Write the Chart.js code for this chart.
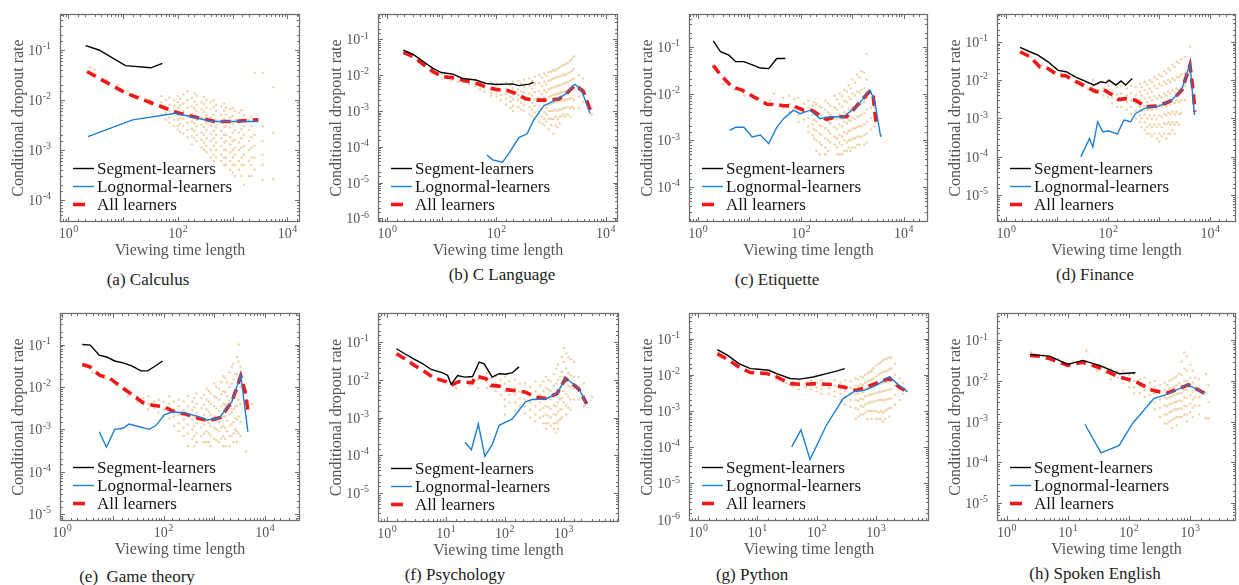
<!DOCTYPE html>
<html><head><meta charset="utf-8">
<script src="https://cdn.jsdelivr.net/npm/chart.js@4.4.0/dist/chart.umd.min.js"></script>
<style>
html,body{margin:0;padding:0;background:#fff;width:1239px;height:585px;overflow:hidden;position:relative}
canvas{position:absolute}
.cap{position:absolute;width:260px;text-align:center;font:17px "Liberation Serif","Times New Roman",serif;color:#222;line-height:20px;white-space:pre}
</style></head><body>
<script>
// ---------- tick labels (exponents of 10 that carry a label) ----------
const xTickExpsTop = [0, 2, 4];
const xTickExpsBottom = [0, 1, 2, 3];
const yTickExpsA = [-4, -3, -2, -1];
const yTickExpsB = [-6, -5, -4, -3, -2, -1];
const yTickExpsC = [-4, -3, -2, -1];
const yTickExpsD = [-5, -4, -3, -2, -1];
const yTickExpsE = [-5, -4, -3, -2, -1];
const yTickExpsF = [-5, -4, -3, -2, -1];
const yTickExpsG = [-6, -5, -4, -3, -2, -1];
const yTickExpsH = [-5, -4, -3, -2, -1];

const seriesNames = ['Segment-learners', 'Lognormal-learners', 'All learners'];
const captions = ['(a) Calculus', '(b) C Language', '(c) Etiquette', '(d) Finance',
                  '(e)  Game theory', '(f) Psychology', '(g) Python', '(h) Spoken English'];

// ---------- (a) Calculus ----------
const segAX = [2.06, 3.6, 11, 32, 52];
const segAY = [0.122, 0.1, 0.0486, 0.044, 0.054];
const logAX = [2.27, 14.9, 91, 419, 966, 2950];
const logAY = [0.00185, 0.004, 0.0054, 0.0037, 0.0037, 0.0037];
const allAX = [2.18, 11.3, 34, 104, 316, 480, 966, 2950];
const allAY = [0.037, 0.0136, 0.0086, 0.0054, 0.0041, 0.0037, 0.0037, 0.004];
const cloudA = [[2.5,0.045],[3,0.04],[5,0.025],[8,0.02],[12,0.015],[20,0.012],[30,0.01,0.008],
 [50,0.012,0.009,0.007,0.005],[60,0.01,0.0075,0.0055,0.004],[70,0.011,0.008,0.006,0.0045,0.0035],[85,0.01,0.0075,0.0055,0.004,0.003],
 [100,0.012,0.009,0.007,0.005,0.004,0.003,0.0025],[110,0.0105,0.0078,0.0058,0.0044,0.0033,0.0023],[125,0.013,0.0085,0.006,0.0042,0.003,0.0021],
 [150,0.015,0.01,0.007,0.005,0.0035,0.0025,0.0018],[180,0.011,0.0075,0.0052,0.0037,0.0026,0.0019,0.0013],
 [200,0.0135,0.0092,0.0068,0.0048,0.0034,0.0024,0.0017],
 [220,0.012,0.008,0.006,0.004,0.003,0.002,0.0015],[270,0.009,0.0065,0.0045,0.0032,0.0022,0.0016,0.0011],
 [300,0.0115,0.0082,0.0058,0.0041,0.0029,0.002,0.0014,0.001],
 [330,0.01,0.007,0.005,0.0035,0.0025,0.0017,0.0012,0.0009],[400,0.009,0.0065,0.0045,0.003,0.0021,0.0015,0.001,0.0007],
 [450,0.0098,0.0072,0.005,0.0035,0.0024,0.0017,0.0012,0.0008,0.0006],
 [500,0.008,0.006,0.004,0.0028,0.002,0.0014,0.001,0.0007],[620,0.0075,0.005,0.0035,0.0024,0.0017,0.0012,0.0008,0.0006],
 [700,0.0085,0.006,0.0042,0.0029,0.002,0.0014,0.001,0.0007,0.0005],
 [750,0.007,0.005,0.003,0.002,0.0015,0.001,0.0007,0.0005],[900,0.0065,0.0045,0.0028,0.0018,0.0013,0.0009,0.0006,0.0004],
 [1000,0.0068,0.0048,0.0033,0.0022,0.0015,0.001,0.0007,0.0005,0.00035],
 [1100,0.006,0.004,0.0025,0.0016,0.0011,0.0008,0.0005,0.0003],[1300,0.0055,0.0035,0.0022,0.0014,0.001,0.0006,0.0004],
 [1450,0.0062,0.004,0.0026,0.0017,0.0011,0.0007,0.0005,0.0003],
 [1600,0.005,0.003,0.002,0.0012,0.0008,0.0005,0.0002],[2000,0.004,0.0025,0.0015,0.001,0.0006,0.0003],
 [2200,0.0045,0.003,0.0018,0.0011,0.0007,0.0005,0.0003],
 [2500,0.035,0.004,0.002,0.0012,0.0007,0.0004],[3500,0.035,0.003,0.0015,0.0008,0.0005,0.00025],[5500,0.018,0.0022,0.00026]];

// ---------- (b) C Language ----------
const segBX = [1.98, 3.0, 4.56, 6.9, 9.8, 15.9, 24, 42, 64, 97, 148, 195, 257, 390, 480];
const segBY = [0.050, 0.038, 0.024, 0.0155, 0.0118, 0.0107, 0.0081, 0.0073, 0.0059, 0.0055, 0.0056, 0.0057, 0.0051, 0.0056, 0.0063];
const logBX = [67, 85, 129, 170, 257, 363, 480, 727, 1190, 1800, 2730, 3600, 5150];
const logBY = [5.9e-5, 4.3e-5, 3.7e-5, 6.6e-5, 1.8e-4, 2.3e-4, 5.6e-4, 0.00138, 0.002, 0.0029, 0.0056, 0.0037, 0.00085];
const allBX = [1.98, 3.0, 4.56, 6.9, 10.5, 15.9, 27.7, 48.6, 64, 97, 158, 225, 340, 518, 900, 1370, 1800, 2730, 3870, 5300];
const allBY = [0.043, 0.033, 0.02, 0.0125, 0.009, 0.0085, 0.0069, 0.0056, 0.0046, 0.004, 0.0037, 0.0031, 0.0022, 0.002, 0.002, 0.00215, 0.0028, 0.0053, 0.0035, 0.00096];
const cloudB = [[10,0.011,0.008],[12,0.0095],[15,0.01,0.007],[20,0.0085,0.0065],[25,0.008,0.006],[32,0.0075,0.0055],
 [40,0.007,0.005],[50,0.0065,0.0048,0.004],[60,0.006,0.0045,0.0035],[80,0.0062,0.0042,0.0032,0.0026],
 [100,0.006,0.004,0.003,0.0025],[120,0.0055,0.0037,0.0028,0.002],[150,0.006,0.004,0.003,0.0022,0.0015],
 [180,0.0052,0.0035,0.0025,0.0018,0.0012],
 [200,0.0065,0.0042,0.0029,0.0021,0.0014,0.001],[250,0.007,0.004,0.0028,0.002,0.0013],
 [280,0.0058,0.0035,0.0024,0.0017,0.0011],
 [320,0.0075,0.0047,0.0032,0.0022,0.0015,0.001],[400,0.008,0.005,0.003,0.002,0.0013,0.0008],
 [450,0.0068,0.0042,0.0027,0.0017,0.0011,0.0007],
 [500,0.009,0.0055,0.0033,0.0021,0.0014,0.0009,0.0006],[600,0.01,0.006,0.0035,0.0022,0.0014,0.0008,0.0005],
 [680,0.0085,0.005,0.003,0.0019,0.0012,0.0007,0.00045],
 [750,0.011,0.0065,0.0038,0.0024,0.0015,0.0009,0.0006,0.0004],
 [820,0.0095,0.0055,0.0033,0.002,0.0012,0.0008,0.0005],
 [900,0.012,0.007,0.004,0.0025,0.0015,0.001,0.0006,0.0003],
 [1000,0.0125,0.0075,0.0043,0.0026,0.0016,0.001,0.0006,0.0004],
 [1100,0.014,0.008,0.0045,0.0028,0.0017,0.001,0.0006,0.00023],
 [1200,0.0135,0.0085,0.0048,0.0029,0.0018,0.0011,0.0007,0.0004],
 [1300,0.015,0.009,0.005,0.003,0.0018,0.001,0.0006,0.00035],
 [1420,0.016,0.009,0.0052,0.0031,0.0019,0.0011,0.0007,0.00045],
 [1550,0.018,0.0095,0.0055,0.0033,0.0019,0.0011,0.0007],
 [1680,0.019,0.0105,0.0058,0.0034,0.002,0.0012,0.0008],
 [1800,0.02,0.01,0.006,0.0035,0.002,0.0012,0.0007],
 [2000,0.022,0.011,0.0063,0.0037,0.0021,0.0013,0.0008],
 [2200,0.025,0.012,0.007,0.004,0.0022,0.0012,0.0007],
 [2400,0.028,0.013,0.0075,0.004,0.0023,0.0013],
 [2600,0.033,0.015,0.008,0.004,0.002,0.0012],
 [3200,0.01,0.005,0.0025,0.0012],[3800,0.008,0.004,0.0018],[5500,0.0012,0.0008]];

// ---------- (c) Etiquette ----------
const segCX = [1.98, 2.75, 4.0, 5.4, 7.8, 12.1, 16.3, 23.7, 34, 50];
const segCY = [0.134, 0.078, 0.066, 0.048, 0.048, 0.040, 0.035, 0.034, 0.056, 0.056];
const logCX = [4.1, 5.4, 7.8, 11.3, 16.3, 23.7, 34, 46, 72, 97, 151, 237, 370, 670, 1210, 2200, 2700, 3550];
const logCY = [0.00164, 0.0019, 0.0019, 0.00118, 0.0013, 0.00085, 0.0019, 0.0029, 0.0044, 0.0037, 0.0044, 0.0029, 0.0032, 0.0032, 0.0052, 0.0118, 0.0072, 0.00118];
const allCX = [1.98, 2.75, 4.6, 7.2, 12.1, 22, 34, 46, 72, 113, 162, 237, 316, 500, 780, 1210, 2200, 2550, 2950];
const allCY = [0.040, 0.025, 0.0139, 0.0118, 0.0085, 0.0059, 0.0058, 0.0055, 0.0054, 0.0044, 0.0044, 0.0034, 0.0028, 0.0032, 0.0032, 0.0054, 0.0114, 0.0085, 0.0019];
const cloudC = [[3,0.016],[5,0.012],[8,0.009],[15,0.008],[25,0.007],[30,0.01,0.006],[45,0.008,0.005],
 [60,0.009,0.006,0.004],[75,0.0075,0.005],[90,0.008,0.005,0.0035,0.0025],[115,0.006,0.004,0.0028],
 [140,0.007,0.005,0.003,0.002,0.0015],[170,0.0055,0.0035,0.0022,0.0013],
 [180,0.0065,0.0042,0.0027,0.0017,0.0011],
 [200,0.006,0.004,0.0025,0.0016,0.001,0.0006],
 [230,0.0052,0.0034,0.0021,0.0014,0.0009,0.0005],
 [250,0.005,0.0033,0.002,0.0013,0.0008],[300,0.007,0.0045,0.0028,0.0018,0.0011,0.0007,0.0005],
 [340,0.0062,0.004,0.0025,0.0016,0.001,0.0006],
 [370,0.0055,0.0036,0.0023,0.0014,0.0009],[450,0.009,0.005,0.003,0.0019,0.0012,0.0008],
 [500,0.0075,0.0045,0.0028,0.0017,0.0011,0.0007,0.0005],
 [560,0.01,0.006,0.0035,0.0022,0.0013,0.0009,0.0005],
 [630,0.0088,0.0053,0.0032,0.002,0.0012,0.0008,0.0005],
 [700,0.012,0.007,0.004,0.0025,0.0015,0.001,0.0006],
 [780,0.011,0.0065,0.0037,0.0023,0.0014,0.0009,0.0006],
 [850,0.015,0.0085,0.0045,0.0027,0.0016,0.001,0.0007],
 [920,0.013,0.0075,0.0042,0.0026,0.0016,0.001,0.0006],
 [1000,0.02,0.01,0.005,0.003,0.0018,0.0011,0.0007],
 [1120,0.017,0.009,0.0048,0.0029,0.0018,0.0011,0.0007],
 [1250,0.025,0.011,0.0055,0.0032,0.0019,0.0012,0.0008],
 [1380,0.022,0.0105,0.0055,0.0033,0.002,0.0012,0.0008],
 [1500,0.03,0.012,0.006,0.0035,0.002,0.0012],
 [1700,0.028,0.013,0.0065,0.0038,0.0022,0.0013,0.0008],
 [1900,0.07,0.02,0.008,0.0045,0.0025,0.0014,0.0009],[2300,0.01,0.005,0.003,0.0017],[2700,0.005,0.002],[3700,0.0013]];

// ---------- (d) Finance ----------
const segDX = [1.87, 2.9, 4.2, 6.6, 10.4, 15, 23.6, 37, 53, 72, 90, 104, 141, 178, 220, 296];
const segDY = [0.071, 0.055, 0.045, 0.030, 0.018, 0.0166, 0.0118, 0.0091, 0.0074, 0.0091, 0.0085, 0.01, 0.0074, 0.0095, 0.0074, 0.011];
const logDX = [29, 43, 50, 62, 78, 104, 151, 204, 275, 345, 466, 630, 980, 1320, 1780, 2780, 4000, 4900];
const logDY = [1.0e-4, 3.0e-4, 1.8e-4, 8.2e-4, 4.5e-4, 4.7e-4, 3.9e-4, 9.1e-4, 8.2e-4, 0.00135, 0.0017, 0.002, 0.0021, 0.0025, 0.0031, 0.0057, 0.027, 0.00123];
const allDX = [1.87, 2.9, 4.6, 6.6, 10.4, 15, 23.6, 37, 58, 78, 121, 163, 220, 345, 540, 840, 1320, 1780, 2780, 4000, 4680, 5000];
const allDY = [0.055, 0.041, 0.022, 0.020, 0.0135, 0.0128, 0.0091, 0.0067, 0.005, 0.0058, 0.0041, 0.0031, 0.0033, 0.003, 0.002, 0.0021, 0.0025, 0.003, 0.0055, 0.0245, 0.0045, 0.0015];
const cloudD = [[3,0.04],[5,0.025],[8,0.018],[12,0.015],[20,0.012],[30,0.009,0.007],[40,0.0085,0.006],
 [50,0.01,0.007,0.005],[65,0.008,0.0055,0.0045],[80,0.009,0.006,0.004],[100,0.0075,0.005,0.0035],
 [120,0.008,0.005,0.0035,0.0025],[150,0.0065,0.0042,0.003,0.002],[180,0.007,0.0045,0.003,0.002],
 [230,0.006,0.004,0.0027,0.0017],[280,0.007,0.0045,0.003,0.002,0.0013],[350,0.0065,0.004,0.0026,0.0016,0.001],
 [420,0.008,0.005,0.003,0.002,0.0012,0.0008],
 [450,0.0065,0.004,0.0025,0.0016,0.001,0.0006],
 [520,0.009,0.0055,0.0033,0.0021,0.0013,0.0008,0.0005],
 [580,0.0075,0.0045,0.0027,0.0017,0.001,0.0006,0.0004],
 [650,0.01,0.006,0.0035,0.002,0.0012,0.0007,0.0004],
 [720,0.0088,0.005,0.003,0.0017,0.001,0.0006,0.00035],
 [800,0.012,0.007,0.0038,0.0021,0.0012,0.0007,0.0004],
 [900,0.0105,0.006,0.0033,0.0018,0.001,0.0006,0.0003],
 [1000,0.014,0.008,0.004,0.0022,0.0012,0.0007,0.0004,0.00025],
 [1120,0.0125,0.007,0.0036,0.002,0.0011,0.0006,0.00035],
 [1250,0.017,0.009,0.0045,0.0024,0.0013,0.00075,0.0004],
 [1380,0.015,0.008,0.004,0.0021,0.0012,0.0007,0.0003],
 [1500,0.02,0.01,0.005,0.0025,0.0014,0.0008,0.0004],
 [1650,0.018,0.009,0.0045,0.0023,0.0013,0.0007,0.0004],
 [1800,0.025,0.011,0.0055,0.0028,0.0015,0.0008,0.0005],
 [2000,0.022,0.01,0.005,0.0025,0.0013,0.0007,0.0004],
 [2200,0.03,0.012,0.006,0.003,0.0015,0.0008],
 [2450,0.028,0.012,0.0055,0.0027,0.0013,0.0007],
 [2700,0.035,0.014,0.0065,0.003,0.0014],[3200,0.04,0.015,0.007,0.003],[4000,0.075,0.02]];

// ---------- (e) Game theory ----------
const segEX = [2.5, 3.6, 5.4, 7.5, 10.9, 15.8, 23, 36, 49, 71, 96];
const segEY = [0.1, 0.097, 0.056, 0.051, 0.041, 0.037, 0.032, 0.024, 0.024, 0.032, 0.041];
const logEX = [5.4, 7.5, 10.9, 15.8, 21, 33, 52, 71, 103, 151, 273, 500, 720, 1230, 2230, 3330, 4600];
const logEY = [8.8e-4, 3.8e-4, 0.001, 0.00106, 0.00133, 0.00115, 0.001, 0.00123, 0.0022, 0.0026, 0.0024, 0.002, 0.00166, 0.0018, 0.0045, 0.019, 8.8e-4];
const allEX = [2.5, 3.5, 5.5, 8.7, 14.7, 24.8, 39, 61, 103, 174, 273, 500, 780, 1320, 2230, 3330, 4060, 4700];
const allEY = [0.034, 0.030, 0.019, 0.016, 0.01, 0.0064, 0.0043, 0.0037, 0.0034, 0.0025, 0.0023, 0.0018, 0.0016, 0.0019, 0.0045, 0.018, 0.0077, 0.0024];
const cloudE = [[4,0.022],[7,0.016],[12,0.011],[20,0.008,0.006],[30,0.006,0.0045],[40,0.0055,0.004],
 [50,0.006,0.004,0.003],[65,0.0045,0.0032],[80,0.005,0.0035,0.0025],[100,0.0045,0.003,0.002],
 [130,0.006,0.004,0.0028,0.0018],[160,0.0045,0.003,0.002,0.0012],[200,0.005,0.0035,0.0022,0.0014,0.0009],
 [250,0.0045,0.0028,0.0017,0.0011,0.0007],[300,0.006,0.0035,0.0022,0.0013,0.0008,0.0004],
 [370,0.0045,0.0028,0.0017,0.001,0.0006],
 [400,0.0055,0.0033,0.002,0.0012,0.0007,0.0004],
 [450,0.007,0.004,0.0024,0.0014,0.0008,0.0005],
 [560,0.0055,0.0032,0.0019,0.0011,0.0007],
 [630,0.0065,0.0038,0.0022,0.0013,0.0008,0.0005],
 [700,0.009,0.005,0.003,0.0016,0.0009,0.0005],
 [780,0.008,0.0045,0.0026,0.0014,0.0008,0.0005],
 [850,0.007,0.004,0.0022,0.0012,0.0007,0.0004],[1000,0.012,0.006,0.0035,0.002,0.0011,0.0006],
 [1100,0.01,0.0055,0.0031,0.0017,0.001,0.00055],
 [1250,0.009,0.005,0.0027,0.0015,0.0009,0.0005],
 [1380,0.013,0.0068,0.0035,0.0019,0.0011,0.0006],
 [1500,0.018,0.008,0.004,0.002,0.0012,0.0007,0.0004],
 [1650,0.016,0.0075,0.0037,0.002,0.0011,0.0006,0.0004],
 [1800,0.013,0.006,0.003,0.0016,0.0009],
 [2000,0.022,0.01,0.0045,0.0023,0.0012,0.0007,0.0004],
 [2200,0.03,0.012,0.005,0.0025,0.0013,0.0007],
 [2400,0.035,0.015,0.0065,0.003,0.0015,0.0008,0.0005],
 [2600,0.02,0.008,0.0035,0.0018,0.001],
 [2800,0.05,0.02,0.008,0.0035,0.0017,0.0009,0.0005],
 [3000,0.1,0.04,0.015,0.005,0.002,0.0008],
 [3300,0.03,0.01,0.004,0.0015,0.0007],
 [4200,0.008,0.003,0.0003],[5500,0.004]];

// ---------- (f) Psychology ----------
const segFX = [1.44, 1.99, 2.93, 4.05, 5.6, 8.8, 10.7, 12.2, 15.8, 20.6, 28.3, 36.6, 44.5, 61, 80, 103, 134, 174];
const segFY = [0.0665, 0.049, 0.035, 0.0266, 0.0188, 0.0153, 0.013, 0.0076, 0.013, 0.0118, 0.0122, 0.0295, 0.0266, 0.0118, 0.0145, 0.014, 0.0154, 0.022];
const logFX = [21, 27, 35.5, 45.7, 61, 80, 134, 224, 290, 490, 770, 1070, 1290, 1790, 2460];
const logFY = [2.2e-4, 1.4e-4, 6.7e-4, 9.3e-5, 1.9e-4, 6.2e-4, 9.2e-4, 0.0026, 0.003, 0.0031, 0.0043, 0.011, 0.009, 0.006, 0.0023];
const allFX = [1.44, 1.99, 2.93, 4.3, 6.4, 10, 12.2, 14.7, 16.9, 28, 32, 48, 58, 80, 103, 174, 224, 331, 490, 770, 1070, 1290, 1790, 2460];
const allFY = [0.049, 0.036, 0.024, 0.0166, 0.011, 0.009, 0.0071, 0.0083, 0.009, 0.0083, 0.0125, 0.0107, 0.0071, 0.0068, 0.0055, 0.005, 0.0047, 0.0035, 0.0032, 0.0043, 0.0107, 0.0087, 0.0058, 0.0023];
const cloudF = [[10,0.008],[15,0.006],[25,0.012,0.007],[35,0.02,0.01,0.006],[50,0.015,0.009,0.006],[60,0.011,0.007],
 [70,0.012,0.008,0.005],[85,0.01,0.0065,0.004],[100,0.012,0.008,0.005,0.003,0.002,0.0012],[120,0.009,0.006,0.004,0.0025],
 [150,0.01,0.006,0.004,0.0025,0.0015],[180,0.008,0.005,0.0032,0.002],[220,0.008,0.005,0.003,0.002,0.0013],
 [270,0.0065,0.004,0.0025,0.0016,0.001],[330,0.009,0.005,0.003,0.002,0.0012,0.0008],[400,0.007,0.004,0.0025,0.0016,0.001],
 [450,0.009,0.005,0.003,0.0018,0.0011,0.0007],
 [500,0.012,0.006,0.0035,0.002,0.0012,0.0007,0.0005],
 [550,0.01,0.0055,0.0032,0.0019,0.0011,0.0007],
 [600,0.009,0.005,0.003,0.0017,0.001,0.0006],
 [680,0.014,0.007,0.0037,0.0021,0.0012,0.0007,0.0005],
 [750,0.02,0.008,0.004,0.002,0.0012,0.0007,0.0004],
 [800,0.025,0.01,0.005,0.0025,0.0014,0.0008,0.0005],
 [870,0.012,0.006,0.003,0.0016,0.0009],
 [930,0.04,0.016,0.007,0.0033,0.0017,0.001],
 [1000,0.07,0.03,0.012,0.005,0.0025],
 [1100,0.05,0.02,0.009,0.0042,0.0021,0.0012],
 [1200,0.04,0.015,0.007,0.0035,0.0018],
 [1320,0.035,0.013,0.0065,0.003,0.0016],
 [1500,0.03,0.012,0.006,0.003],[1800,0.012,0.006,0.003],
 [2200,0.008,0.004,0.002],[3000,0.0035]];

// ---------- (g) Python ----------
const segGX = [2.1, 3.1, 4.85, 7.6, 10.5, 15.5, 21, 35.6, 52, 87, 146, 215, 296];
const segGY = [0.0497, 0.035, 0.0204, 0.0148, 0.0142, 0.0133, 0.0108, 0.0079, 0.0076, 0.0087, 0.0108, 0.0126, 0.0148];
const logGX = [37.8, 54, 77, 146, 278, 436, 635, 1000, 1680, 2440, 3400];
const logGY = [1.02e-4, 3.0e-4, 4.6e-5, 4.1e-4, 0.0022, 0.0035, 0.0037, 0.0051, 0.0087, 0.0051, 0.0034];
const allGX = [2.1, 3.1, 4.85, 7.6, 14.5, 21, 35.6, 59, 100, 166, 278, 465, 680, 1140, 1680, 2440, 3400];
const allGY = [0.0386, 0.027, 0.0165, 0.0115, 0.0108, 0.0087, 0.0057, 0.0054, 0.0057, 0.0054, 0.0046, 0.0037, 0.0046, 0.0063, 0.0081, 0.0046, 0.0034];
const cloudG = [[12,0.011],[20,0.009],[30,0.008,0.006],[40,0.0065,0.0048],[50,0.007,0.005,0.004],[65,0.006,0.0045],
 [80,0.007,0.005,0.004],[100,0.006,0.0045,0.0035],[120,0.007,0.005,0.004,0.003],[160,0.006,0.0042,0.003],
 [200,0.007,0.005,0.0035,0.0025],[250,0.006,0.0042,0.003,0.002],[300,0.007,0.005,0.0035,0.0025,0.0015],
 [370,0.0065,0.0045,0.003,0.002,0.0013],[450,0.008,0.005,0.003,0.002,0.0012,0.0006],
 [500,0.0075,0.0047,0.003,0.0019,0.0011,0.0007],
 [550,0.009,0.0055,0.0035,0.0022,0.0014,0.0008],
 [600,0.0085,0.0052,0.0033,0.0021,0.0013,0.0008],
 [650,0.01,0.006,0.004,0.0025,0.0015,0.0009],
 [720,0.011,0.0065,0.0042,0.0026,0.0016,0.001,0.0006],
 [780,0.012,0.007,0.0045,0.0028,0.0017,0.001],
 [840,0.013,0.0075,0.0047,0.0029,0.0018,0.001,0.0006],
 [900,0.015,0.008,0.005,0.003,0.0018,0.001],
 [1000,0.018,0.009,0.0052,0.0031,0.0019,0.001,0.0006],
 [1100,0.02,0.01,0.0055,0.0033,0.002,0.0009,0.0006],
 [1200,0.022,0.011,0.0058,0.0034,0.002,0.001,0.0006],
 [1300,0.025,0.012,0.006,0.0035,0.002,0.0009,0.0005],
 [1420,0.027,0.0125,0.0062,0.0036,0.002,0.001,0.0006],
 [1550,0.028,0.013,0.0065,0.0038,0.0021,0.0011],
 [1680,0.03,0.014,0.0068,0.0039,0.0022,0.0012,0.0007],
 [1800,0.03,0.015,0.007,0.004,0.0022,0.0012],
 [2100,0.02,0.01,0.005,0.0028,0.0015],
 [2500,0.008,0.004,0.002],[2800,0.006,0.003],[3200,0.0035]];

// ---------- (h) Spoken English ----------
const segHX = [2.39, 3.47, 5.0, 10, 17.5, 32.6, 69, 127];
const segHY = [0.045, 0.0427, 0.041, 0.0257, 0.032, 0.0242, 0.0151, 0.0159];
const logHX = [19, 34.7, 69, 113, 253, 446, 910, 1700];
const logHY = [8.5e-4, 1.7e-4, 2.6e-4, 8.9e-4, 0.0037, 0.0049, 0.0081, 0.005];
const allHX = [2.39, 3.47, 5.0, 10, 17.5, 32.6, 69, 127, 240, 417, 645, 933, 1700];
const allHY = [0.0427, 0.0405, 0.0355, 0.0242, 0.029, 0.0212, 0.0125, 0.0098, 0.0059, 0.005, 0.0064, 0.0081, 0.005];
const cloudH = [[2.5,0.05],[4,0.045],[7,0.035],[12,0.03],[20,0.055,0.03],[30,0.025,0.018],[40,0.022,0.016],
 [50,0.02,0.015,0.011],[65,0.017,0.012],[80,0.018,0.012,0.009],[100,0.014,0.0095,0.007],
 [120,0.015,0.01,0.007,0.005],[150,0.011,0.0075,0.005],[180,0.012,0.008,0.006,0.004],[220,0.009,0.0065,0.0045,0.003],
 [260,0.01,0.007,0.005,0.003,0.002],[320,0.008,0.0055,0.0035,0.0022,0.0013],[380,0.009,0.006,0.004,0.0025,0.0015,0.0009],
 [420,0.008,0.0055,0.0037,0.0024,0.0015,0.0009],
 [460,0.01,0.0065,0.004,0.0027,0.0017,0.001],
 [500,0.011,0.0068,0.0042,0.0028,0.0018,0.0011,0.0007],
 [550,0.012,0.007,0.0045,0.003,0.002,0.0012],
 [600,0.013,0.0078,0.0048,0.0031,0.002,0.0013,0.0008],
 [660,0.015,0.009,0.005,0.0033,0.0021,0.0013],
 [720,0.03,0.014,0.008,0.005,0.0032,0.0021,0.0013],
 [800,0.05,0.02,0.01,0.006,0.004,0.0025,0.0015],
 [880,0.04,0.018,0.01,0.006,0.0038,0.0024,0.0015,0.001],
 [1000,0.025,0.012,0.007,0.0045,0.0028,0.0017],
 [1100,0.018,0.009,0.0055,0.0035,0.0022,0.0013],
 [1200,0.012,0.007,0.004,0.0025],[1400,0.011,0.0065,0.004,0.0025,0.0015],
 [1800,0.015,0.005,0.0012],[2000,0.008,0.003,0.0012]];

// ---------- layout of the eight panels (plot-box pixels and axis ranges) ----------
const panels = [
 {box:[60,14,302,222],  xr:[0.7,17000], yr:[3.6e-5,0.525], xe:xTickExpsTop, ye:yTickExpsA, s:[segAX,segAY], l:[logAX,logAY], a:[allAX,allAY], c:cloudA, cap:[148,280]},
 {box:[378,14,620,222], xr:[0.68,16700], yr:[7.9e-7,0.51], xe:xTickExpsTop, ye:yTickExpsB, s:[segBX,segBY], l:[logBX,logBY], a:[allBX,allBY], c:cloudB, cap:[502,275]},
 {box:[689,14,930,222], xr:[0.67,29500], yr:[1.8e-5,0.5], xe:xTickExpsTop, ye:yTickExpsC, s:[segCX,segCY], l:[logCX,logCY], a:[allCX,allCY], c:cloudC, cap:[777,280]},
 {box:[997,14,1238,222],xr:[0.66,32000], yr:[2e-6,0.53], xe:xTickExpsTop, ye:yTickExpsD, s:[segDX,segDY], l:[logDX,logDY], a:[allDX,allDY], c:cloudD, cap:[1095,275]},
 {box:[60,313,302,521], xr:[0.91,49000], yr:[6.9e-6,0.555], xe:xTickExpsTop, ye:yTickExpsE, s:[segEX,segEY], l:[logEX,logEY], a:[allEX,allEY], c:cloudE, cap:[137,577]},
 {box:[378,313,621,522],xr:[0.7,8700], yr:[1.7e-6,0.59], xe:xTickExpsBottom, ye:yTickExpsF, s:[segFX,segFY], l:[logFX,logFY], a:[allFX,allFY], c:cloudF, cap:[455,575]},
 {box:[689,313,931,521],xr:[0.71,7800], yr:[9.1e-7,0.51], xe:xTickExpsBottom, ye:yTickExpsG, s:[segGX,segGY], l:[logGX,logGY], a:[allGX,allGY], c:cloudG, cap:[752,575]},
 {box:[997,313,1238,521],xr:[0.69,5600], yr:[3.6e-6,0.47], xe:xTickExpsBottom, ye:yTickExpsH, s:[segHX,segHY], l:[logHX,logHY], a:[allHX,allHY], c:cloudH, cap:[1095,574]}
];

const SERIF = '"Liberation Serif","Times New Roman",serif';
const SUP = {'-':'\u207B','0':'\u2070','1':'\u00B9','2':'\u00B2','3':'\u00B3','4':'\u2074','5':'\u2075','6':'\u2076','7':'\u2077','8':'\u2078','9':'\u2079'};
function powLabel(e){ return '10' + String(e).split('').map(c => SUP[c]).join(''); }
function labelledExp(value, exps){
  const e = Math.round(Math.log10(value));
  if (Math.abs(value / Math.pow(10, e) - 1) > 1e-6) return null;
  return exps.includes(e) ? e : null;
}
function tickCb(exps){
  return function(value){ const e = labelledExp(value, exps); return e === null ? '' : powLabel(e); };
}
function pts(xs, ys){ return xs.map((x, i) => ({x: x, y: ys[i]})); }
function cloudPts(cols){ const out = []; cols.forEach(col => { for (let i = 1; i < col.length; i++) out.push({x: col[0], y: col[i]}); }); return out; }

const framePlugin = {
  id: 'frameLegend',
  afterDraw(chart, args, opts){
    const ctx = chart.ctx, ca = chart.chartArea, xs = chart.scales.x, ys = chart.scales.y;
    const L = ca.left, T = ca.top, R = ca.right, B = ca.bottom;
    ctx.save();
    ctx.strokeStyle = '#6e6e6e'; ctx.lineWidth = 1;
    const seg = (x1, y1, x2, y2) => { ctx.beginPath(); ctx.moveTo(x1, y1); ctx.lineTo(x2, y2); ctx.stroke(); };
    const isMajor = v => { const e = Math.log10(v); return Math.abs(e - Math.round(e)) < 1e-6; };
    xs.ticks.forEach(t => {
      const p = Math.round(xs.getPixelForValue(t.value)) + 0.5;
      if (p < L + 1 || p > R - 1) return;
      const len = isMajor(t.value) ? 5 : 3;
      seg(p, B, p, B - len); seg(p, T, p, T + len);
    });
    ys.ticks.forEach(t => {
      const p = Math.round(ys.getPixelForValue(t.value)) + 0.5;
      if (p < T + 1 || p > B - 1) return;
      const len = isMajor(t.value) ? 5 : 3;
      seg(L, p, L + len, p); seg(R, p, R - len, p);
    });
    ctx.strokeStyle = '#707070'; ctx.lineWidth = 1.3;
    ctx.strokeRect(L + 0.5, T + 0.5, R - L - 1, B - T - 1);

    // tick labels: "10" with a raised exponent
    ctx.fillStyle = '#555'; ctx.textBaseline = 'alphabetic'; ctx.textAlign = 'left';
    const measure = e => {
      ctx.font = '14px ' + SERIF; const w1 = ctx.measureText('10').width;
      ctx.font = '10px ' + SERIF; const w2 = ctx.measureText(String(e)).width;
      return [w1, w2];
    };
    const put = (e, x0, base) => {
      const [w1] = measure(e);
      ctx.font = '14px ' + SERIF; ctx.fillText('10', x0, base);
      ctx.font = '10px ' + SERIF; ctx.fillText(String(e), x0 + w1 + 0.5, base - 5.8);
    };
    xs.ticks.forEach(t => {
      const e = labelledExp(t.value, opts.xe); if (e === null) return;
      const p = xs.getPixelForValue(t.value); const [w1, w2] = measure(e);
      put(e, p - (w1 + w2 + 0.5) / 2, B + 15.5);
    });
    ys.ticks.forEach(t => {
      const e = labelledExp(t.value, opts.ye); if (e === null) return;
      const p = ys.getPixelForValue(t.value); const [w1, w2] = measure(e);
      put(e, L - 9 - (w1 + w2 + 0.5), p + 5);
    });

    // legend inside the axes, lower left
    const ds = chart.data.datasets.filter(d => d.legendRow !== undefined);
    ds.forEach(d => {
      const y = Math.round(B - 54 + d.legendRow * 18) + 0.5;
      ctx.strokeStyle = d.borderColor; ctx.lineWidth = d.borderWidth;
      ctx.setLineDash([]);
      if (d.borderDash && d.borderDash.length) seg(L + 13, y, L + 25, y);
      else seg(L + 13, y, L + 34, y);
      ctx.fillStyle = '#151515';
      ctx.font = '17px ' + SERIF;
      ctx.textBaseline = 'middle'; ctx.textAlign = 'left';
      ctx.fillText(d.label, L + 37, y + 1);
    });
    ctx.restore();
  }
};

const YW = 55, XH = 42, PT = 6, PR = 2;
panels.forEach((p, idx) => {
  const [L, T, R, B] = p.box;
  const cv = document.createElement('canvas');
  const w = R - L + YW + PR, h = B - T + PT + XH;
  cv.width = w; cv.height = h;
  cv.style.left = (L - YW) + 'px'; cv.style.top = (T - PT) + 'px';
  cv.style.width = w + 'px'; cv.style.height = h + 'px';
  document.body.appendChild(cv);

  const cap = document.createElement('div');
  cap.className = 'cap';
  cap.textContent = captions[idx];
  cap.style.left = (p.cap[0] - 130) + 'px';
  cap.style.top = (p.cap[1] - 10) + 'px';
  document.body.appendChild(cap);

  new Chart(cv, {
    type: 'scatter',
    data: { datasets: [
      { label: seriesNames[0], data: pts(p.s[0], p.s[1]), showLine: true, borderColor: '#000000', borderWidth: 1.4, pointRadius: 0, fill: false, order: 1, legendRow: 0 },
      { label: seriesNames[1], data: pts(p.l[0], p.l[1]), showLine: true, borderColor: '#1c7fd2', borderWidth: 1.4, pointRadius: 0, fill: false, order: 2, legendRow: 1 },
      { label: seriesNames[2], data: pts(p.a[0], p.a[1]), showLine: true, borderColor: '#f01818', borderWidth: 3.6, borderDash: [10, 6], pointRadius: 0, fill: false, order: 3, legendRow: 2 },
      { label: 'cloud', data: cloudPts(p.c), showLine: false, pointRadius: 1.3, pointBorderWidth: 0, backgroundColor: '#efd5ab', borderColor: '#efd5ab', order: 4 }
    ]},
    options: {
      responsive: false, animation: false, devicePixelRatio: 1,
      layout: { padding: { left: 0, top: PT, right: PR, bottom: 0 } },
      plugins: { legend: { display: false }, tooltip: { enabled: false }, title: { display: false },
                 frameLegend: { xe: p.xe, ye: p.ye } },
      events: [],
      scales: {
        x: {
          type: 'logarithmic', position: 'bottom', min: p.xr[0], max: p.xr[1],
          grid: { display: false, drawTicks: false }, border: { display: false },
          afterFit: s => { s.height = XH; },
          ticks: { display: false, autoSkip: false, maxRotation: 0, minRotation: 0, callback: tickCb(p.xe) },
          title: { display: true, text: 'Viewing time length', color: '#555', font: { family: SERIF, size: 16 }, padding: { top: 4, bottom: 4 } }
        },
        y: {
          type: 'logarithmic', position: 'left', min: p.yr[0], max: p.yr[1],
          grid: { display: false, drawTicks: false }, border: { display: false },
          afterFit: s => { s.width = YW; },
          ticks: { display: false, autoSkip: false, callback: tickCb(p.ye) },
          title: { display: true, text: 'Conditional dropout rate', color: '#555', font: { family: SERIF, size: 16 }, padding: { top: 4, bottom: 4 } }
        }
      }
    },
    plugins: [framePlugin]
  });
});
</script>
</body></html>
